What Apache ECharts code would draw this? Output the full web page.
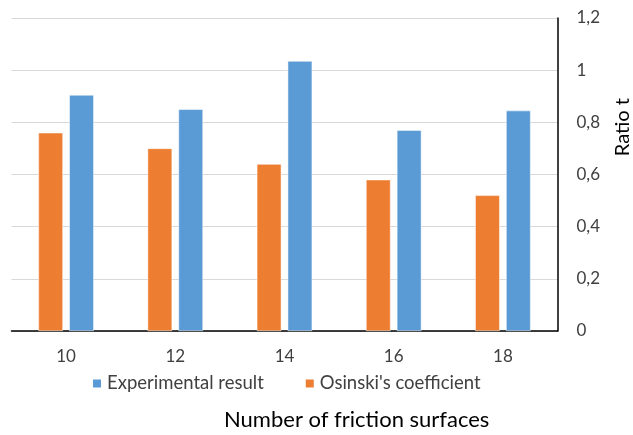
<!DOCTYPE html>
<html>
<head>
<meta charset="utf-8">
<script src="https://cdn.jsdelivr.net/npm/echarts@6/dist/echarts.min.js"></script>
<style>html,body{margin:0;padding:0;background:#fff}#c{width:633px;height:435px}</style>
</head>
<body>
<div id="c"></div>
<script>
const categories = ['10', '12', '14', '16', '18'];
const osinski = [0.76, 0.70, 0.64, 0.58, 0.52];
const experimental = [0.905, 0.85, 1.035, 0.77, 0.845];
const seriesNames = ["Osinski's coefficient", 'Experimental result'];
const legendOrder = ['Experimental result', "Osinski's coefficient"];
const yTitle = 'Ratio t';
const xTitle = 'Number of friction surfaces';

const FONT = 'Lato, "Open Sans", sans-serif';
const chart = echarts.init(document.getElementById('c'));
chart.setOption({
  animation: false,
  textStyle: { fontFamily: FONT },
  grid: { left: 11.5, right: 75.5, top: 18, bottom: 104, containLabel: false },
  legend: {
    data: legendOrder,
    left: 86, top: 369,
    icon: 'rect', itemWidth: 10, itemHeight: 10, itemGap: 40, itemTextGap: 4,
    textStyle: { fontFamily: FONT, fontSize: 18.5, color: '#404040' }
  },
  xAxis: {
    type: 'category', data: categories,
    axisLine: { lineStyle: { color: '#000', width: 1.5 } },
    axisTick: { show: false },
    axisLabel: { fontSize: 17, color: '#404040', margin: 17, fontFamily: FONT }
  },
  yAxis: {
    type: 'value', position: 'right', min: 0, max: 1.2, interval: 0.2,
    axisLine: { show: true, lineStyle: { color: '#000', width: 1.5 } },
    axisTick: { show: false },
    splitLine: { lineStyle: { color: '#d9d9d9', width: 1 } },
    axisLabel: { fontSize: 17, color: '#404040', margin: 19, fontFamily: FONT,
      formatter: v => String(Math.round(v * 10) / 10).replace('.', ',') }
  },
  graphic: [
    { type: 'text', left: 613, top: 98, rotation: Math.PI / 2,
      style: { text: yTitle, fontSize: 20, fill: '#000', fontFamily: FONT } },
    { type: 'text', left: 224, top: 409,
      style: { text: xTitle, fontSize: 22, fill: '#000', fontFamily: FONT } }
  ],
  series: [
    { name: seriesNames[0], type: 'bar', data: osinski, barWidth: 24.5, barGap: '26%',
      itemStyle: { color: '#ed7d31', borderColor: '#fff', borderWidth: 0.5 } },
    { name: seriesNames[1], type: 'bar', data: experimental, barWidth: 24.5, barGap: '26%',
      itemStyle: { color: '#5b9bd5', borderColor: '#fff', borderWidth: 0.5 } }
  ]
});
</script>
</body>
</html>
